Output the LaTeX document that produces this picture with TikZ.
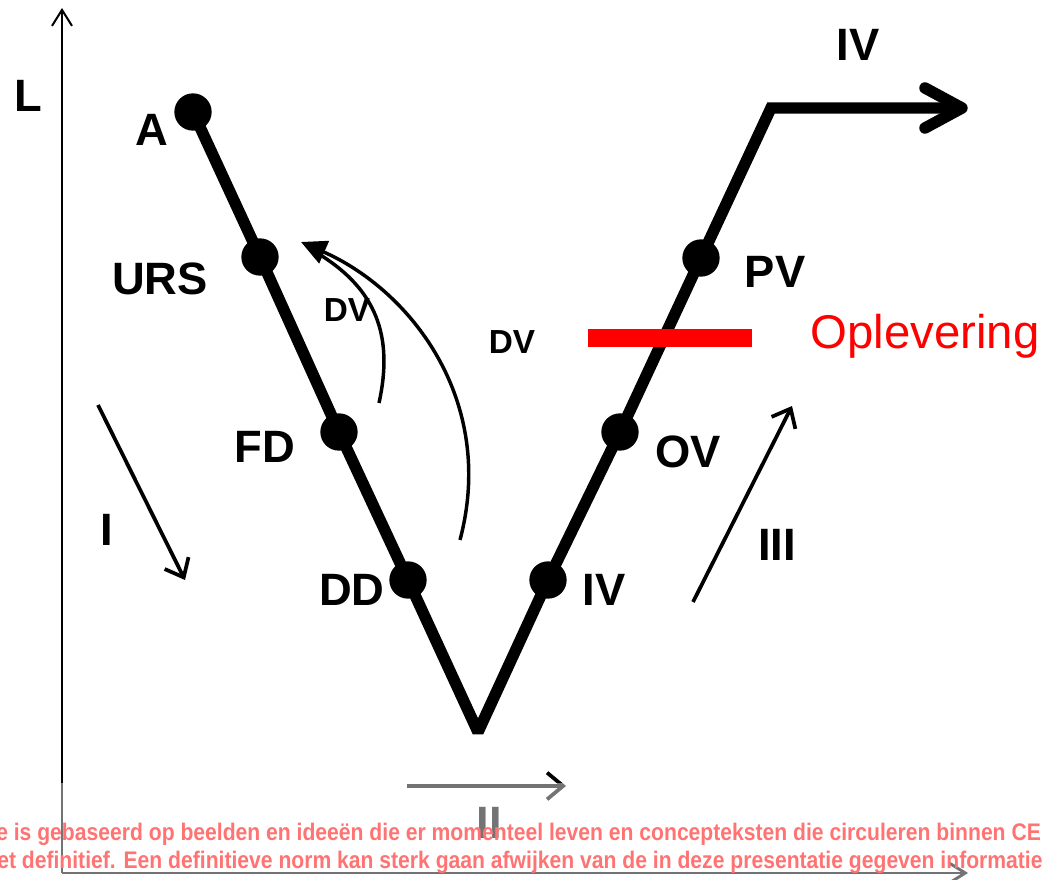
\documentclass[tikz,border=0pt]{standalone}
\usepackage{fontspec}
\setmainfont{Liberation Sans}
\newfontfamily\notefont[FakeStretch=0.88]{Liberation Sans}
\usetikzlibrary{arrows.meta,calc}

\begin{document}
\begin{tikzpicture}[x=0.75pt,y=-0.75pt,
  lbl/.style={font=\fontsize{34}{36}\selectfont\bfseries, inner sep=0},
  smlbl/.style={font=\fontsize{25}{27}\selectfont\bfseries, inner sep=0},
  dot/.style={circle, fill=black, minimum size=28pt, inner sep=0},
  vline/.style={line width=8.6pt},
  axis/.style={line width=1.5pt, -{Straight Barb[length=12pt,width=15pt]}},
  dirarrow/.style={line width=2.8pt, -{Straight Barb[length=12pt,width=20pt]}},
  loop/.style={line width=2.6pt},
  note/.style={font=\notefont\fontsize{18}{20}\selectfont\bfseries, text=red, inner sep=0, anchor=base west},
]
\useasboundingbox (0,0) rectangle (1050,880);
\clip (0,0) rectangle (1050,880);

% axes
\coordinate (origin) at (62,873);
\coordinate (ytop) at (62,8);
\coordinate (xend) at (968,873);
\draw[axis] (origin) -- (ytop);
\draw[axis, line width=2.2pt] (origin) -- (xend);
\node[lbl] (L) at (28,96) {L};

% milestones on the V
\node[dot] (A)   at (193,112) {};
\node[dot] (URS) at (260,257) {};
\node[dot] (FD)  at (339,432) {};
\node[dot] (DD)  at (408,580) {};
\node[dot] (IV)  at (548,580) {};
\node[dot] (OV)  at (620,432) {};
\node[dot] (PV)  at (701,258) {};
\coordinate (bot) at (478,732);
\coordinate (corner) at (771,108);
\coordinate (tip) at (962,108);

\draw[vline, line join=bevel] (A.center) -- (URS.center) -- (FD.center) -- (DD.center) -- (bot) -- (IV.center);
\draw[vline, line join=miter] (IV.center) -- (OV.center) -- (PV.center) -- (corner) -- (tip);
\draw[vline, line cap=round, line join=round] ($(tip)+(-37,-20)$) -- (tip) -- ($(tip)+(-37,20)$);

% milestone labels
\node[lbl] (lA)   at (152,130) {A};
\node[lbl] (lURS) at (160,279) {URS};
\node[lbl] (lFD)  at (265,447) {FD};
\node[lbl] (lDD)  at (352,590) {DD};
\node[lbl] (lIV)  at (604,590) {IV};
\node[lbl] (lOV)  at (688,452) {OV};
\node[lbl] (lPV)  at (775,272) {PV};
\node[lbl] (lIVt) at (858,45) {IV};

% feedback loops back to the requirements
\coordinate (fbtip) at (301,242);
\coordinate (fbbig) at (460,540);
\coordinate (fbsmall) at (379,403);
\draw[loop, -{Triangle[length=19pt,width=18pt]}] (fbbig) .. controls (497,400) and (410,290) .. (fbtip);
\draw[loop] (fbsmall) .. controls (394,335) and (375,290) .. (322,256);
\node[smlbl] (dv1) at (347,310) {DV};

% delivery marker
\node[smlbl] (dv2) at (512,342) {DV};
\coordinate (barL) at (588,338);
\coordinate (barR) at (752,338);
\draw[red, line width=13.5pt] (barL) -- (barR);
\node[inner sep=0, text=red, font=\fontsize{35.5}{38}\selectfont] (opl) at (925,336) {Oplevering};

% phase arrows
\coordinate (i1) at (98,405);
\coordinate (i2) at (185,580);
\draw[dirarrow] (i1) -- (i2);
\node[lbl] (pI) at (107,530) {I};
\coordinate (iii1) at (693,602);
\coordinate (iii2) at (792,406);
\draw[dirarrow] (iii1) -- (iii2);
\node[lbl] (pIII) at (777,545) {III};
\coordinate (ii1) at (407,786);
\coordinate (ii2) at (566,786);
\draw[dirarrow] (ii1) -- (ii2);
\node[lbl] (pII) at (489,823) {II};

% disclaimer
\node[note] (n1) at (-4,840) {e is gebaseerd op beelden en ideeën die er momenteel leven en concepteksten die circuleren binnen CE};
\node[note] (n2) at (-3,868) {et definitief. Een definitieve norm kan sterk gaan afwijken van de in deze presentatie gegeven informatie};

% washed-out strip at the bottom
\fill[white, opacity=0.45] (0,783) rectangle (1050,880);
\end{tikzpicture}
\end{document}
